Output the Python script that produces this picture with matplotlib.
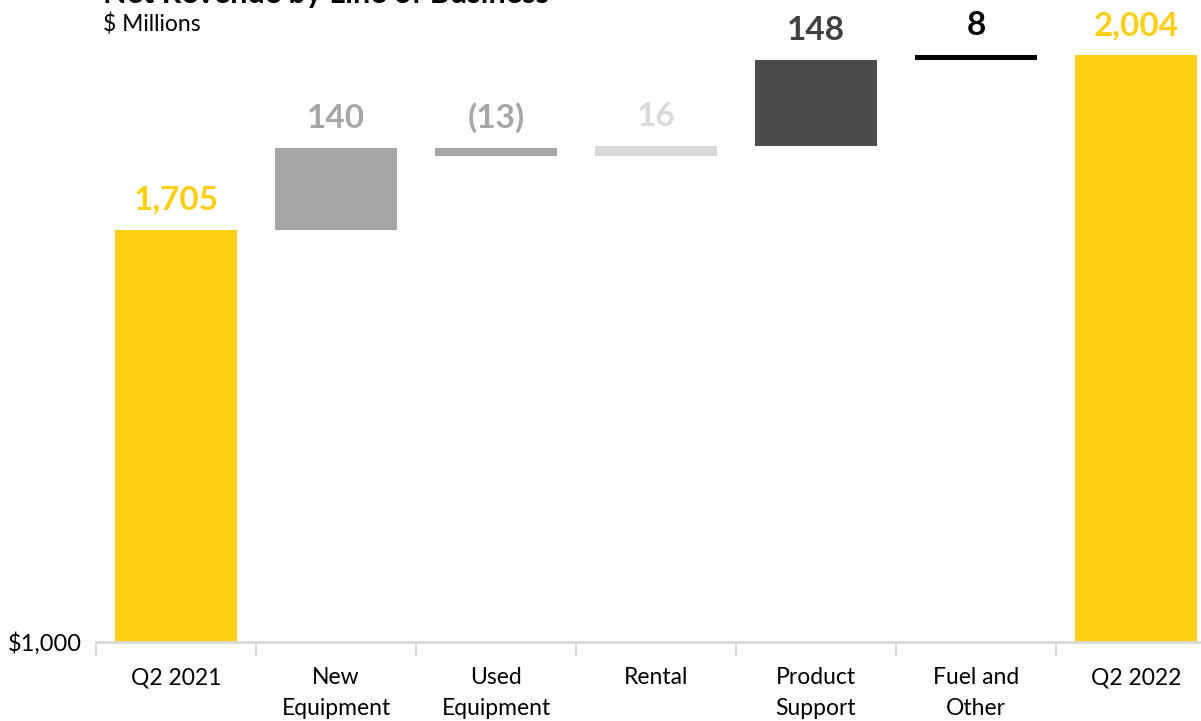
import matplotlib.pyplot as plt
import numpy as np

plt.rcParams['font.family'] = ['Lato', 'DejaVu Sans']

# data
categories = ['Q2 2021', 'New\nEquipment', 'Used\nEquipment', 'Rental',
              'Product\nSupport', 'Fuel and\nOther', 'Q2 2022']
start_total = 1705
changes = [140, -13, 16, 148, 8]
end_total = 2004
value_labels = ['1,705', '140', '(13)', '16', '148', '8', '2,004']
bar_colors = ['#FFCD11', '#A6A6A6', '#A6A6A6', '#D9D9D9', '#4A4A4A', '#000000', '#FFCD11']
label_colors = ['#FFCD11', '#A6A6A6', '#A6A6A6', '#D9D9D9', '#404040', '#000000', '#FFCD11']
base_value = 1000

# waterfall bottoms / heights
bottoms = [base_value]
heights = [start_total - base_value]
level = start_total
for c in changes:
    bottoms.append(min(level, level + c))
    heights.append(abs(c))
    level += c
bottoms.append(base_value)
heights.append(end_total - base_value)

W, H = 1201, 721
fig = plt.figure(figsize=(W / 100, H / 100), dpi=100)
ax = fig.add_axes([96 / W, 1 - 642 / H, 1120 / W, 642 / H])

x = np.arange(len(categories))
ax.bar(x, heights, bottom=bottoms, width=0.765, color=bar_colors, zorder=2)

ppu = (642 - 230) / (1705 - 1000)
ax.set_ylim(base_value, base_value + 642 / ppu)
ax.set_xlim(-0.5, len(categories) - 0.5)

# value labels above the bars
for i in range(len(categories)):
    top = bottoms[i] + heights[i]
    ax.annotate(value_labels[i], (x[i], top), xytext=(0, 11), textcoords='offset points',
                ha='center', va='bottom', fontsize=24, fontweight='bold',
                color=label_colors[i], annotation_clip=False)

for s in ['top', 'right', 'left']:
    ax.spines[s].set_visible(False)
ax.spines['bottom'].set_color('#D9D9D9')
ax.spines['bottom'].set_linewidth(2)

ax.set_xticks(x)
ax.set_xticklabels(categories, fontsize=16.5, linespacing=1.6)
ax.tick_params(axis='x', which='major', length=0, pad=18)
ax.set_xticks(np.arange(-0.5, len(categories), 1), minor=True)
ax.tick_params(axis='x', which='minor', length=10, width=1.5, color='#D9D9D9')

ax.set_yticks([base_value])
ax.set_yticklabels(['$1,000'], fontsize=17)
ax.tick_params(axis='y', length=0, pad=10)

fig.text(103 / W, 1 - 3 / H, 'Net Revenue by Line of Business', fontsize=22,
         fontweight='bold', ha='left', va='baseline')
fig.text(103 / W, 1 - 24 / H, '$ Millions', fontsize=16.5, ha='left', va='center')

fig.savefig('out.png', dpi=100)
